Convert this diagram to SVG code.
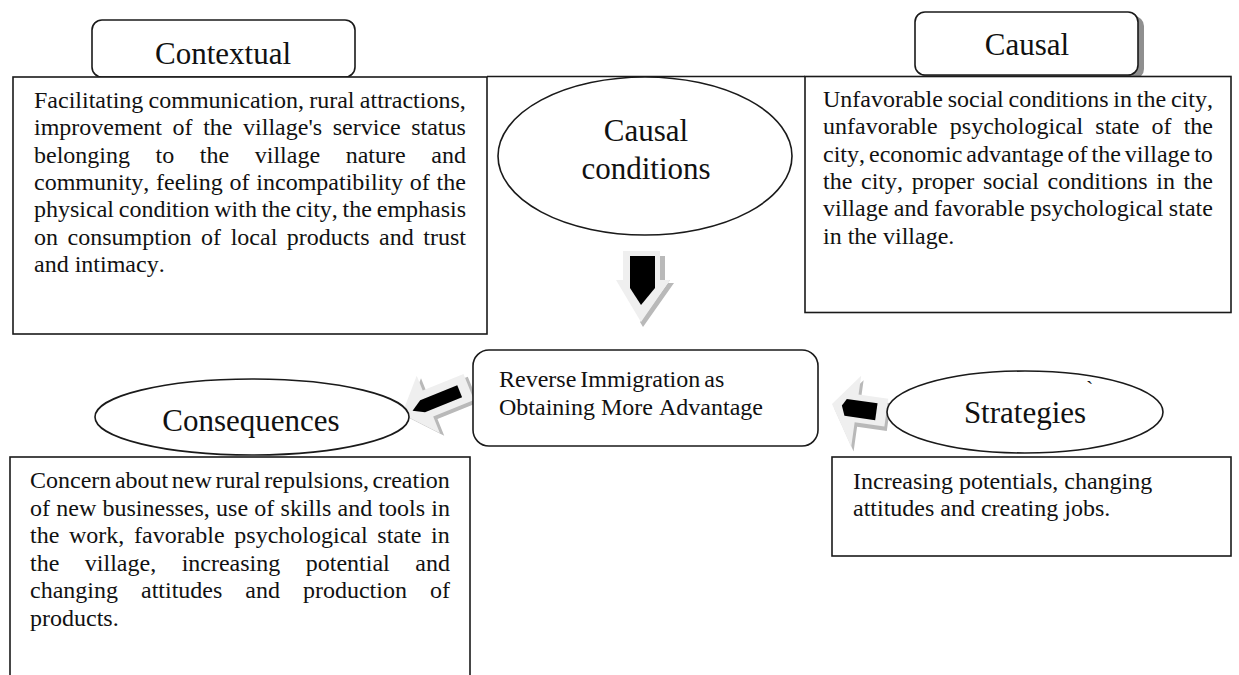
<svg xmlns="http://www.w3.org/2000/svg" width="1239" height="675" viewBox="0 0 1239 675">
<style>
  .box{fill:#fff;stroke:#1a1a1a;stroke-width:1.6}
  .t{font-family:"Liberation Serif","Times New Roman",serif;fill:#111;font-kerning:none}
  .body{font-size:24px}
  .title{font-size:31px;text-anchor:middle}
  .light{fill:#efefef}
  .shade{fill:#b9b9b9}
  .blk{fill:#000}
</style>
<rect width="1239" height="675" fill="#fff"/>

<g id="connectors">
  <line x1="487" y1="76.5" x2="805" y2="76.5" stroke="#1a1a1a" stroke-width="1.6"/>
  <g id="arrow-down">
    <polygon class="shade" points="660,256 665,256 665,283 674,283 643,327 640,322 670,280 660,280"/>
    <polygon class="light" points="623,251 660,251 660,280 670,280 641,322 616,280 623,280"/>
    <polygon class="blk" points="630,256 655,256 655,288 641,305 630,288"/>
  </g>
  <g id="arrow-left-consequences" transform="translate(402,414) rotate(-22)">
    <polygon class="shade" transform="translate(3,4)" points="0,0 28,-30 28,-14 72,-14 72,14 28,14 28,32"/>
    <polygon class="light" points="0,0 28,-30 28,-14 72,-14 72,14 28,14 28,32"/>
    <polygon class="blk" points="11,1 22,-6 62,-6 62,7 22,7"/>
  </g>
  <g id="arrow-left-strategies" transform="translate(832,404) rotate(8)">
    <polygon class="shade" transform="translate(3,4)" points="0,0 25,-32 25,-13 55,-13 55,15 25,15 25,40"/>
    <polygon class="light" points="0,0 25,-32 25,-13 55,-13 55,15 25,15 25,40"/>
    <polygon class="blk" points="10,0 14,-7 45,-7 45,10 14,10"/>
  </g>
</g>

<g id="node-contextual-label">
  <rect class="box" x="92" y="20" width="263" height="57" rx="10"/>
  <text class="t title" x="223" y="64">Contextual</text>
</g>

<g id="node-contextual-box">
  <rect class="box" x="13" y="77" width="474" height="257"/>
  <text class="t body">
    <tspan x="34" y="108" word-spacing="-0.7">Facilitating communication, rural attractions,</tspan>
    <tspan x="34" y="135.3" word-spacing="4.6">improvement of the village's service status</tspan>
    <tspan x="34" y="162.6" word-spacing="19.6">belonging to the village nature and</tspan>
    <tspan x="34" y="189.9" word-spacing="0.8">community, feeling of incompatibility of the</tspan>
    <tspan x="34" y="217.2" word-spacing="-1.2">physical condition with the city, the emphasis</tspan>
    <tspan x="34" y="244.5" word-spacing="3.56">on consumption of local products and trust</tspan>
    <tspan x="34" y="271.8">and intimacy.</tspan>
  </text>
</g>

<g id="node-causal-conditions">
  <ellipse class="box" cx="645" cy="156" rx="147" ry="79"/>
  <text class="t title" x="646" y="141">Causal</text>
  <text class="t title" x="646" y="179">conditions</text>
</g>

<g id="node-causal-label">
  <rect x="921" y="16" width="223" height="63" rx="10" fill="#8f8f8f"/>
  <rect class="box" x="915" y="12" width="223" height="63" rx="10"/>
  <text class="t title" x="1027" y="55">Causal</text>
</g>

<g id="node-causal-box">
  <rect class="box" x="805" y="76.5" width="426" height="236"/>
  <text class="t body">
    <tspan x="823" y="107" word-spacing="-1.2">Unfavorable social conditions in the city,</tspan>
    <tspan x="823" y="134.3" word-spacing="6.2">unfavorable psychological state of the</tspan>
    <tspan x="823" y="161.6" word-spacing="-2.0">city, economic advantage of the village to</tspan>
    <tspan x="823" y="188.9" word-spacing="2.67">the city, proper social conditions in the</tspan>
    <tspan x="823" y="216.2" word-spacing="-0.5">village and favorable psychological state</tspan>
    <tspan x="823" y="243.5">in the village.</tspan>
  </text>
</g>

<g id="node-reverse">
  <rect class="box" x="473" y="350" width="345" height="96" rx="16"/>
  <text class="t body">
    <tspan x="499" y="387" word-spacing="-2">Reverse Immigration as</tspan>
    <tspan x="499" y="415">Obtaining More Advantage</tspan>
  </text>
</g>

<g id="node-consequences">
  <ellipse class="box" cx="252" cy="417" rx="157" ry="38"/>
  <text class="t title" x="251" y="431">Consequences</text>
</g>

<g id="node-consequences-box">
  <rect class="box" x="10" y="457" width="460" height="230"/>
  <text class="t body">
    <tspan x="30" y="488" word-spacing="-2.4">Concern about new rural repulsions, creation</tspan>
    <tspan x="30" y="515.5" word-spacing="0.25">of new businesses, use of skills and tools in</tspan>
    <tspan x="30" y="543" word-spacing="3.7">the work, favorable psychological state in</tspan>
    <tspan x="30" y="570.5" word-spacing="19.5">the village, increasing potential and</tspan>
    <tspan x="30" y="598" word-spacing="17">changing attitudes and production of</tspan>
    <tspan x="30" y="625.5">products.</tspan>
  </text>
</g>

<g id="node-strategies">
  <ellipse class="box" cx="1025" cy="412" rx="138" ry="41"/>
  <text class="t title" x="1025" y="423">Strategies</text>
  <text class="t" x="1086" y="396" font-size="22">`</text>
</g>

<g id="node-strategies-box">
  <rect class="box" x="832" y="457" width="399" height="99"/>
  <text class="t body">
    <tspan x="853" y="489">Increasing potentials, changing</tspan>
    <tspan x="853" y="516">attitudes and creating jobs.</tspan>
  </text>
</g>
</svg>
